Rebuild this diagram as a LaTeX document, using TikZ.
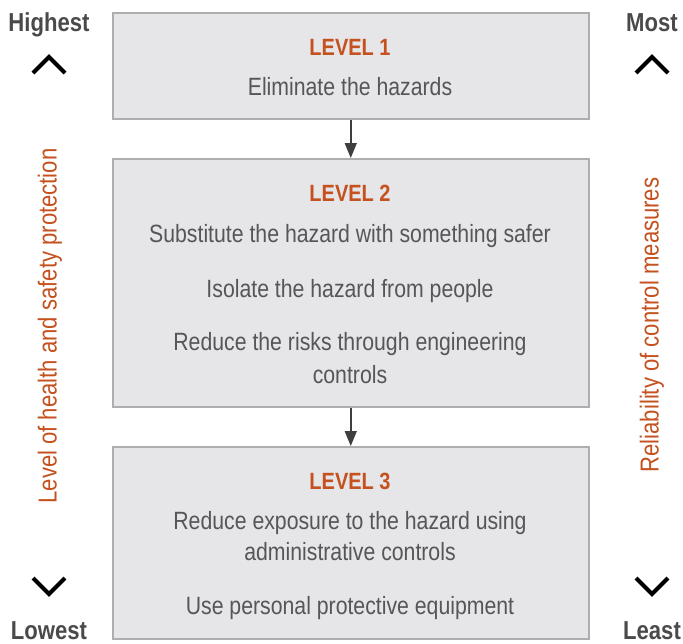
\documentclass[tikz,border=0pt]{standalone}
\usepackage{fontspec}
\setmainfont{Liberation Sans}[FakeStretch=0.85]
\usetikzlibrary{arrows.meta}
\definecolor{boxfill}{HTML}{E6E6E8}
\definecolor{boxline}{HTML}{ADAEB0}
\definecolor{lvl}{HTML}{C4511E}
\definecolor{bodytxt}{HTML}{55565A}
\definecolor{endtxt}{HTML}{4A4A4C}
\definecolor{arr}{HTML}{3F3F41}
\tikzset{
  levelbox/.style={draw=boxline, line width=1.5pt, fill=boxfill},
  lvltext/.style={anchor=base, text=lvl, font=\fontsize{23.5}{27}\selectfont\bfseries, inner sep=0pt},
  bodytext/.style={anchor=base, text=bodytxt, font=\fontsize{25}{29}\selectfont, inner sep=0pt},
  endtext/.style={anchor=base, text=endtxt, font=\fontsize{26}{30}\selectfont\bfseries, inner sep=0pt},
  sidetext/.style={text=lvl, font=\fontsize{26}{30}\selectfont, inner sep=0pt, rotate=90},
  chev/.style={line width=4pt, black},
  flow/.style={draw=arr, line width=1.5pt, -{Triangle[width=12pt,length=15pt]}},
}
\begin{document}
\begin{tikzpicture}[x=1pt,y=-1pt]
\useasboundingbox (0,0) rectangle (683,643);
% boxes
\node[levelbox, minimum width=476pt, minimum height=106pt, anchor=north west, inner sep=0pt] (b1) at (112,12) {};
\node[levelbox, minimum width=476pt, minimum height=248pt, anchor=north west, inner sep=0pt] (b2) at (112,158) {};
\node[levelbox, minimum width=476pt, minimum height=192pt, anchor=north west, inner sep=0pt] (b3) at (112,446) {};
% texts
\node[lvltext] (l1) at (350,55.5) {LEVEL 1};
\node[bodytext] (t1) at (350,95.5) {Eliminate the hazards};
\node[lvltext] (l2) at (350,201.5) {LEVEL 2};
\node[bodytext] (t21) at (350,242.5) {Substitute the hazard with something safer};
\node[bodytext] (t22) at (350,297) {Isolate the hazard from people};
\node[bodytext] (t23) at (350,350.5) {Reduce the risks through engineering};
\node[bodytext] (t24) at (350,383) {controls};
\node[lvltext] (l3) at (350,489.5) {LEVEL 3};
\node[bodytext] (t31) at (350,529.5) {Reduce exposure to the hazard using};
\node[bodytext] (t32) at (350,560.5) {administrative controls};
\node[bodytext] (t33) at (350,614.5) {Use personal protective equipment};
% arrows
\draw[flow] (b1.south) -- (b2.north);
\draw[flow] (b2.south) -- (b3.north);
% side labels
\node[endtext] (hi) at (49,31) {Highest};
\node[endtext] (lo) at (49,639) {Lowest};
\node[endtext] (mo) at (652,31) {Most};
\node[endtext] (le) at (652,639) {Least};
\node[sidetext] (sl) at (50,326) {Level of health and safety protection};
\node[sidetext] (sr) at (652,325) {Reliability of control measures};
% chevrons
\coordinate (c1a) at (33,73); \coordinate (c1b) at (49,57); \coordinate (c1c) at (65,73);
\draw[chev] (c1a) -- (c1b) -- (c1c);
\coordinate (c2a) at (636,73); \coordinate (c2b) at (652,57); \coordinate (c2c) at (668,73);
\draw[chev] (c2a) -- (c2b) -- (c2c);
\coordinate (c3a) at (33,578); \coordinate (c3b) at (49,594); \coordinate (c3c) at (65,578);
\draw[chev] (c3a) -- (c3b) -- (c3c);
\coordinate (c4a) at (636,578); \coordinate (c4b) at (652,594); \coordinate (c4c) at (668,578);
\draw[chev] (c4a) -- (c4b) -- (c4c);
\end{tikzpicture}
\end{document}
